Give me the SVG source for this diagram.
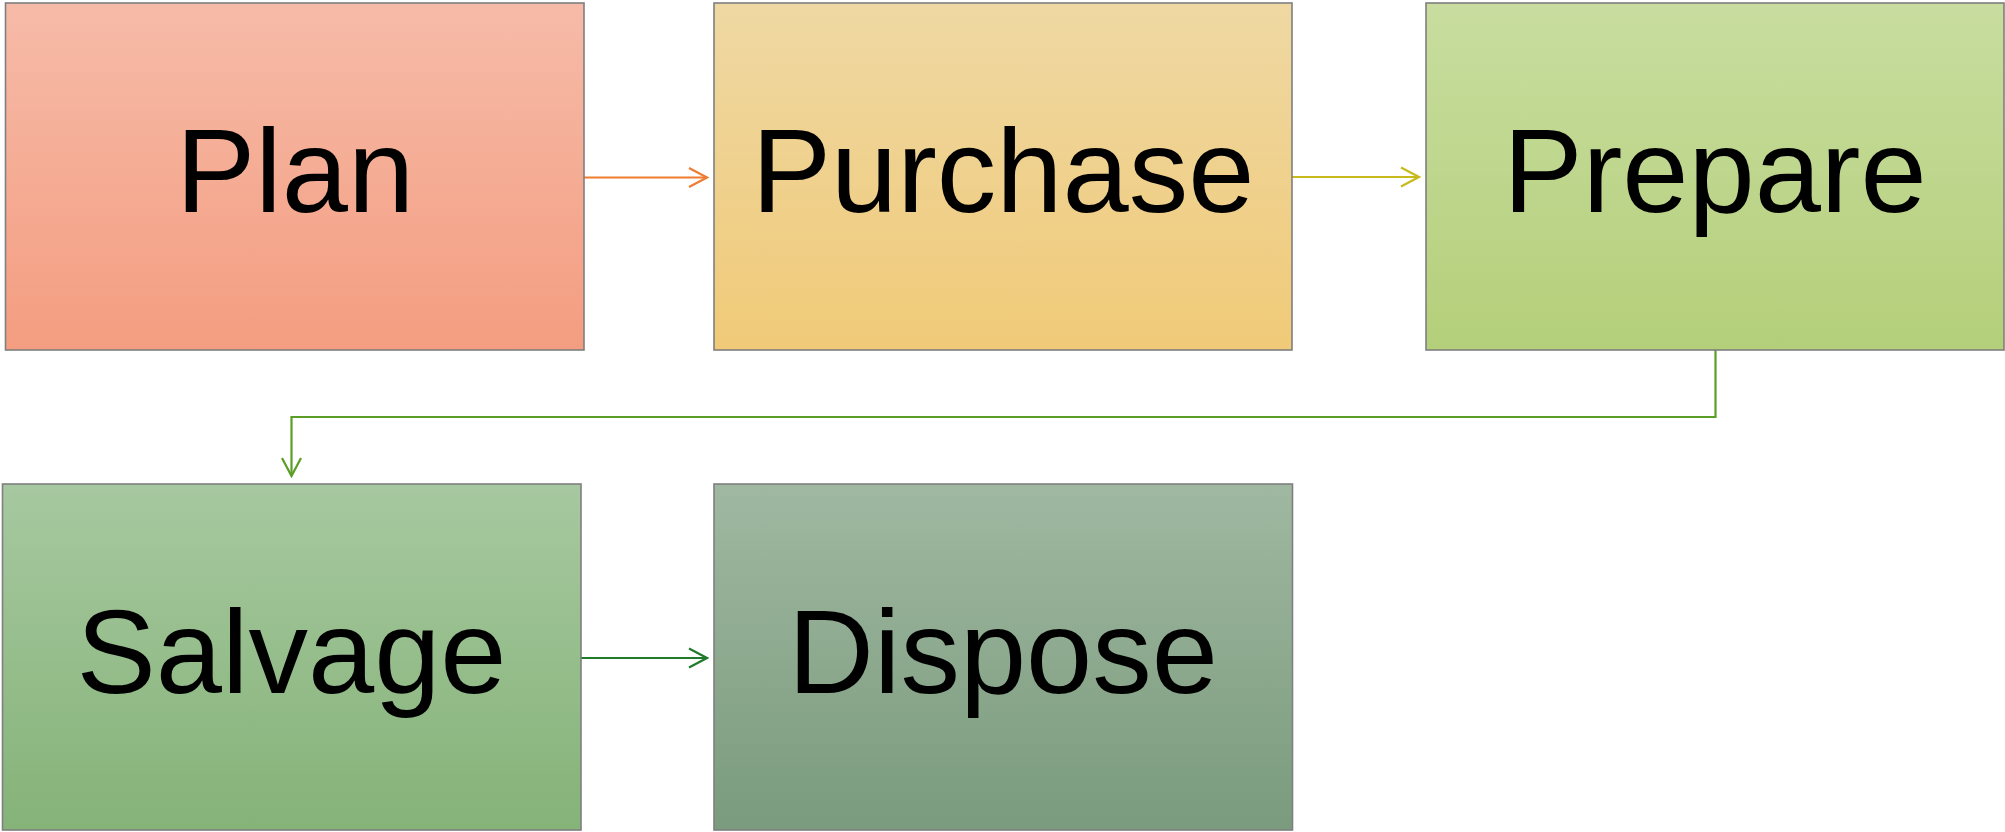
<svg xmlns="http://www.w3.org/2000/svg" width="2005" height="832" viewBox="0 0 2005 832">
<defs>
<linearGradient id="gPlan" x1="0" y1="0" x2="0" y2="1"><stop offset="0" stop-color="#F6BBA8"/><stop offset="1" stop-color="#F49D80"/></linearGradient>
<linearGradient id="gPurchase" x1="0" y1="0" x2="0" y2="1"><stop offset="0" stop-color="#EFD8A3"/><stop offset="1" stop-color="#F0CA78"/></linearGradient>
<linearGradient id="gPrepare" x1="0" y1="0" x2="0" y2="1"><stop offset="0" stop-color="#C8DD9F"/><stop offset="1" stop-color="#B4CF7A"/></linearGradient>
<linearGradient id="gSalvage" x1="0" y1="0" x2="0" y2="1"><stop offset="0" stop-color="#A7C8A0"/><stop offset="1" stop-color="#85B378"/></linearGradient>
<linearGradient id="gDispose" x1="0" y1="0" x2="0" y2="1"><stop offset="0" stop-color="#A0B8A1"/><stop offset="1" stop-color="#7A9B7D"/></linearGradient>
<marker id="aOrange" viewBox="0 0 22 22" refX="20" refY="11" markerWidth="22" markerHeight="22" markerUnits="userSpaceOnUse" orient="auto"><path d="M2,1.5 L20,11 L2,20.5" fill="none" stroke="#ED7D31" stroke-width="2.2"/></marker>
<marker id="aYellow" viewBox="0 0 22 22" refX="20" refY="11" markerWidth="22" markerHeight="22" markerUnits="userSpaceOnUse" orient="auto"><path d="M2,1.5 L20,11 L2,20.5" fill="none" stroke="#C8BA1C" stroke-width="2.2"/></marker>
<marker id="aGreen" viewBox="0 0 22 22" refX="20" refY="11" markerWidth="22" markerHeight="22" markerUnits="userSpaceOnUse" orient="auto"><path d="M2,1.5 L20,11 L2,20.5" fill="none" stroke="#5A9E27" stroke-width="2.2"/></marker>
<marker id="aDark" viewBox="0 0 22 22" refX="20" refY="11" markerWidth="22" markerHeight="22" markerUnits="userSpaceOnUse" orient="auto"><path d="M2,1.5 L20,11 L2,20.5" fill="none" stroke="#1F7A2B" stroke-width="2.2"/></marker>
</defs>
<style>
.box{stroke:#7F7F7F;stroke-width:1.6}
.lbl{font-family:"Liberation Sans",Arial,sans-serif;font-size:119px;fill:#000;text-anchor:middle}
.conn{fill:none;stroke-width:2.2}
</style>
<rect width="2005" height="832" fill="#FFFFFF"/>
<g id="connectors">
<path class="conn" d="M584,177.5 H707" stroke="#ED7D31" marker-end="url(#aOrange)"/>
<path class="conn" d="M1292,177 H1419" stroke="#C8BA1C" marker-end="url(#aYellow)"/>
<path class="conn" d="M1715.5,350 V417 H291.5 V476" stroke="#5A9E27" marker-end="url(#aGreen)"/>
<path class="conn" d="M581,658 H707" stroke="#1F7A2B" marker-end="url(#aDark)"/>
</g>
<g id="plan">
<rect class="box" x="5.5" y="3" width="578.5" height="347" fill="url(#gPlan)"/>
<text class="lbl" x="295" y="211.5">Plan</text>
</g>
<g id="purchase">
<rect class="box" x="714" y="3" width="578" height="347" fill="url(#gPurchase)"/>
<text class="lbl" x="1003" y="211.5">Purchase</text>
</g>
<g id="prepare">
<rect class="box" x="1426" y="3" width="578" height="347" fill="url(#gPrepare)"/>
<text class="lbl" x="1715" y="211.5">Prepare</text>
</g>
<g id="salvage">
<rect class="box" x="2.5" y="484" width="578.5" height="346" fill="url(#gSalvage)"/>
<text class="lbl" x="291.5" y="693">Salvage</text>
</g>
<g id="dispose">
<rect class="box" x="714" y="484" width="578.5" height="346" fill="url(#gDispose)"/>
<text class="lbl" x="1003" y="693">Dispose</text>
</g>
</svg>
